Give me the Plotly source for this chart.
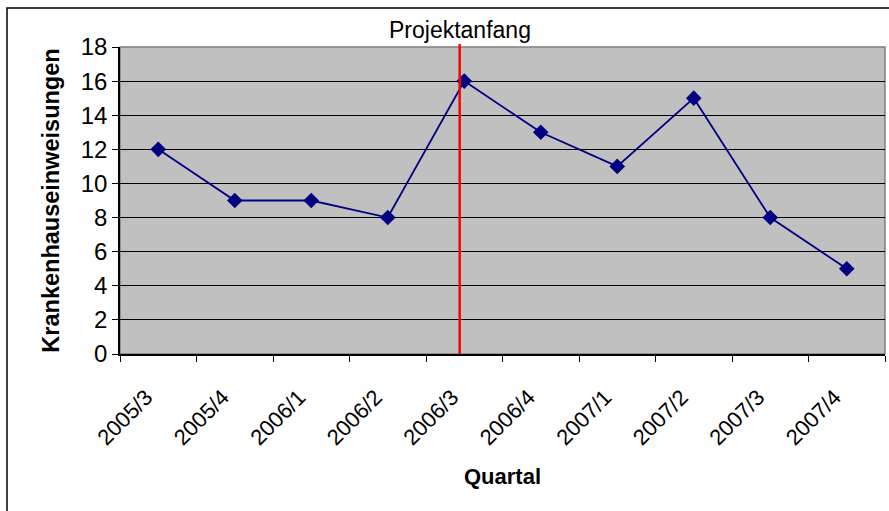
import plotly.graph_objects as go

quarters = ["2005/3", "2005/4", "2006/1", "2006/2", "2006/3",
            "2006/4", "2007/1", "2007/2", "2007/3", "2007/4"]
admissions = [12, 9, 9, 8, 16, 13, 11, 15, 8, 5]
project_start_pos = 3.94
project_label = "Projektanfang"

FONT = "Liberation Sans, Arial"

fig = go.Figure()
fig.add_trace(go.Scatter(
    x=quarters, y=admissions, mode="lines+markers",
    line=dict(color="#000080", width=1.8),
    marker=dict(symbol="diamond", size=12, color="#000080"),
    showlegend=False, cliponaxis=False,
))

fig.add_shape(type="line", xref="x", yref="paper",
              x0=project_start_pos, x1=project_start_pos, y0=0, y1=1.01,
              line=dict(color="#FF0000", width=2.5), layer="above")
fig.add_annotation(x=project_start_pos, xref="x", y=1.0, yref="paper",
                   yanchor="bottom", yshift=2, text=project_label, showarrow=False,
                   font=dict(family=FONT, size=23, color="black"))

# outer chart border (right/bottom edges fall outside the canvas)
fig.add_shape(type="rect", xref="paper", yref="paper",
              x0=-113 / 765, x1=1.05, y0=-0.6, y1=1 + 39 / 307,
              line=dict(color="black", width=1.5), layer="below")
# plot area gray border
fig.add_shape(type="rect", xref="paper", yref="paper", x0=0, x1=1, y0=0, y1=1,
              line=dict(color="#808080", width=1.5), layer="below")

fig.update_layout(
    width=889, height=511,
    margin=dict(l=120, r=4, t=47, b=157),
    paper_bgcolor="white", plot_bgcolor="#C0C0C0",
    font=dict(family=FONT, color="black"),
    xaxis=dict(
        type="category", tickson="boundaries", ticks="outside", ticklen=6,
        tickcolor="black", showline=True, linecolor="black", linewidth=1.5,
        showgrid=False, tickangle=-45, tickfont=dict(size=22),
        ticklabelstandoff=20, ticklabelshift=-12,
        range=[-0.5, 9.5],
        title=dict(text="<b>Quartal</b>", font=dict(size=22), standoff=20),
    ),
    yaxis=dict(
        range=[0, 18], dtick=2, ticks="outside", ticklen=6, tickcolor="black",
        showline=True, linecolor="black", linewidth=1.5,
        showgrid=True, gridcolor="black", gridwidth=1,
        tickfont=dict(size=24), zeroline=False,
        title=dict(text="<b>Krankenhauseinweisungen</b>", font=dict(size=23.5), standoff=15),
    ),
)

fig.write_html("out.html", config={"displayModeBar": False},
               post_script="document.body.style.margin='0';document.body.style.overflow='hidden';")
